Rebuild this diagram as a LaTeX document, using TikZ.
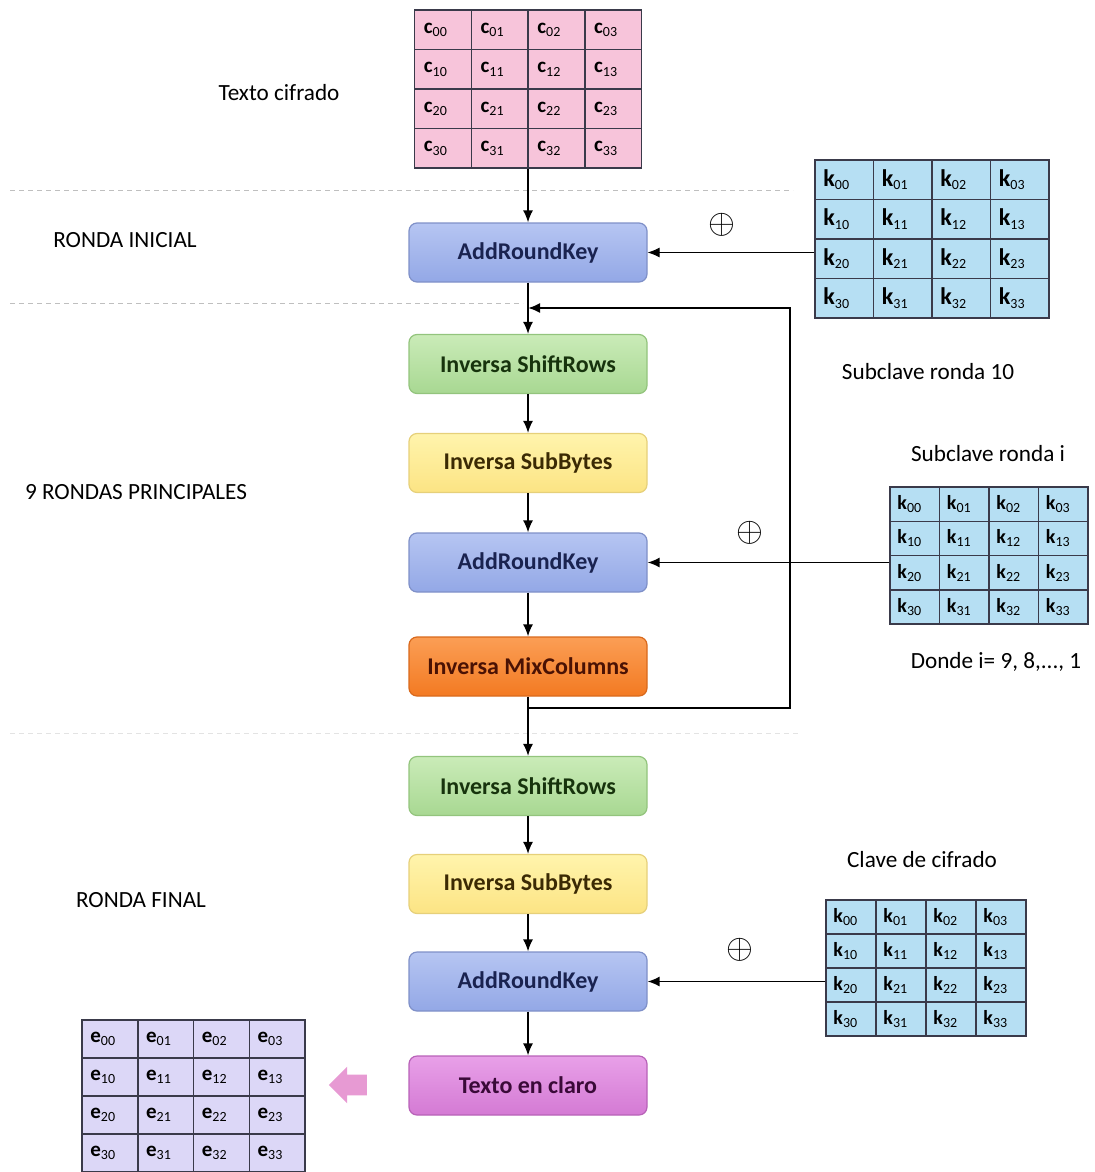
\documentclass[tikz,border=0pt]{standalone}
\usepackage{fontspec}
\setmainfont{Carlito}
\usetikzlibrary{arrows.meta,shapes.arrows}

\definecolor{cipfill}{HTML}{F7C4DA}
\definecolor{keyfill}{HTML}{B6DFF3}
\definecolor{resfill}{HTML}{DCD7F7}
\definecolor{gridline}{HTML}{3A3A4A}
\definecolor{arktop}{HTML}{B6C5F2}
\definecolor{arkbot}{HTML}{93A8E6}
\definecolor{arkline}{HTML}{7F90C8}
\definecolor{arktext}{HTML}{1A2350}
\definecolor{srtop}{HTML}{CAEBB8}
\definecolor{srbot}{HTML}{A8D892}
\definecolor{srline}{HTML}{93C47D}
\definecolor{srtext}{HTML}{17330D}
\definecolor{sbtop}{HTML}{FFF4AC}
\definecolor{sbbot}{HTML}{FCE484}
\definecolor{sbline}{HTML}{E6D07A}
\definecolor{sbtext}{HTML}{3B2A04}
\definecolor{mctop}{HTML}{FB9E55}
\definecolor{mcbot}{HTML}{F37A22}
\definecolor{mcline}{HTML}{D9691C}
\definecolor{mctext}{HTML}{4A1204}
\definecolor{tctop}{HTML}{E8A0E8}
\definecolor{tcbot}{HTML}{D47AD4}
\definecolor{tcline}{HTML}{B862B8}
\definecolor{tctext}{HTML}{3A0A38}
\definecolor{arrowpink}{HTML}{E79AD3}

\tikzset{
  roundbox/.style={rounded corners=4pt, minimum width=119pt, minimum height=29.5pt,
    font=\fontsize{12}{14}\selectfont\bfseries, line width=0.6pt},
  arkbox/.style={roundbox, draw=arkline, top color=arktop, bottom color=arkbot, text=arktext},
  srbox/.style={roundbox, draw=srline, top color=srtop, bottom color=srbot, text=srtext},
  sbbox/.style={roundbox, draw=sbline, top color=sbtop, bottom color=sbbot, text=sbtext},
  mcbox/.style={roundbox, draw=mcline, top color=mctop, bottom color=mcbot, text=mctext},
  tcbox/.style={roundbox, draw=tcline, top color=tctop, bottom color=tcbot, text=tctext},
  tbl/.style={draw=gridline, line width=0.75pt, inner sep=0pt},
  rule/.style={draw=gridline, line width=0.75pt},
  flow/.style={-{Latex[length=6pt,width=5pt]}, line width=0.75pt},
  sep/.style={gray!50, dash pattern=on 2.5pt off 2pt, line width=0.5pt},
  lbl/.style={font=\fontsize{11.6}{13}\selectfont},
  xorsym/.style={font=\fontsize{18}{20}\selectfont},
}

\begin{document}
\begin{tikzpicture}[x=0.5pt, y=-0.5pt]
  \useasboundingbox (0,0) rectangle (1095,1172);

  % Section separators
  \draw[sep] (10,190) -- (793,190);
  \draw[sep] (10,303) -- (523,303);
  \draw[sep, gray!22] (10,733) -- (800,733);

  % Ciphertext block
  \node[tbl, fill=cipfill, minimum width=113.5pt, minimum height=79pt] (cip) at (528,89) {};
  \foreach \i in {1,2,3} {
    \draw[rule] ({414.5+\i*56.75},10) -- ++(0,158);
    \draw[rule] (414.5,{10+\i*39.5}) -- ++(227,0);
  }
  \foreach \r in {0,...,3}
    \foreach \c in {0,...,3}
      \node[anchor=west, inner sep=0pt, font=\fontsize{10.5}{12}\selectfont] (c-\r\c)
        at ({414.5+\c*56.75+9},{29.75+\r*39.5}) {\textbf{c}\textsubscript{\scriptsize\r\c}};
  \node[lbl] (ciptxt) at (279,93) {Texto cifrado};

  % Initial round
  \node[lbl] (rinit) at (125,240) {RONDA INICIAL};
  \node[arkbox] (ark1) at (528,252.5) {AddRoundKey};

  \node[tbl, fill=keyfill, minimum width=117pt, minimum height=79pt] (key1) at (932,239) {};
  \foreach \i in {1,2,3} {
    \draw[rule] ({815+\i*58.5},160) -- ++(0,158);
    \draw[rule] (815,{160+\i*39.5}) -- ++(234,0);
  }
  \foreach \r in {0,...,3}
    \foreach \c in {0,...,3}
      \node[anchor=west, inner sep=0pt, font=\fontsize{12}{14}\selectfont] (ka-\r\c)
        at ({815+\c*58.5+8},{179.75+\r*39.5}) {\textbf{k}\textsubscript{\scriptsize\r\c}};
  \node[lbl] (sub10) at (928,372) {Subclave ronda 10};
  \node[xorsym] (xor1) at (722,225) {$\oplus$};

  % Main rounds
  \node[lbl] (rmain) at (136,492) {9 RONDAS PRINCIPALES};
  \node[srbox] (sr1) at (528,364) {Inversa ShiftRows};
  \node[sbbox] (sb1) at (528,463) {Inversa SubBytes};
  \node[arkbox] (ark2) at (528,562.5) {AddRoundKey};
  \node[mcbox] (mix) at (528,666.5) {Inversa MixColumns};

  \node[tbl, fill=keyfill, minimum width=99pt, minimum height=68.5pt] (key2) at (989,555.5) {};
  \foreach \i in {1,2,3} {
    \draw[rule] ({890+\i*49.5},487) -- ++(0,137);
    \draw[rule] (890,{487+\i*34.25}) -- ++(198,0);
  }
  \foreach \r in {0,...,3}
    \foreach \c in {0,...,3}
      \node[anchor=west, inner sep=0pt, font=\fontsize{10}{11}\selectfont] (kb-\r\c)
        at ({890+\c*49.5+7},{504.1+\r*34.25}) {\textbf{k}\textsubscript{\scriptsize\r\c}};
  \node[lbl] (subi) at (988,454) {Subclave ronda i};
  \node[lbl] (donde) at (996,662) {Donde i= 9, 8,..., 1};
  \node[xorsym] (xor2) at (750,533) {$\oplus$};

  % Final round
  \node[lbl] (rfin) at (141,900) {RONDA FINAL};
  \node[srbox] (sr2) at (528,786) {Inversa ShiftRows};
  \node[sbbox] (sb2) at (528,884) {Inversa SubBytes};
  \node[arkbox] (ark3) at (528,981.5) {AddRoundKey};
  \node[tcbox] (claro) at (528,1085.5) {Texto en claro};

  \node[tbl, fill=keyfill, minimum width=100pt, minimum height=68pt] (key3) at (926,968) {};
  \foreach \i in {1,2,3} {
    \draw[rule] ({826+\i*50},900) -- ++(0,136);
    \draw[rule] (826,{900+\i*34}) -- ++(200,0);
  }
  \foreach \r in {0,...,3}
    \foreach \c in {0,...,3}
      \node[anchor=west, inner sep=0pt, font=\fontsize{10}{11}\selectfont] (kc-\r\c)
        at ({826+\c*50+7},{917+\r*34}) {\textbf{k}\textsubscript{\scriptsize\r\c}};
  \node[lbl] (clave) at (922,860) {Clave de cifrado};
  \node[xorsym] (xor3) at (740,950) {$\oplus$};

  % Plaintext block
  \node[tbl, fill=resfill, minimum width=111.5pt, minimum height=76pt] (res) at (193.5,1096) {};
  \foreach \i in {1,2,3} {
    \draw[rule] ({82+\i*55.75},1020) -- ++(0,152);
    \draw[rule] (82,{1020+\i*38}) -- ++(223,0);
  }
  \foreach \r in {0,...,3}
    \foreach \c in {0,...,3}
      \node[anchor=west, inner sep=0pt, font=\fontsize{10.5}{12}\selectfont] (e-\r\c)
        at ({82+\c*55.75+8},{1039+\r*38}) {\textbf{e}\textsubscript{\scriptsize\r\c}};
  \node[single arrow, shape border rotate=180, fill=arrowpink, inner sep=5pt,
    minimum height=19pt, single arrow head extend=4pt] (back) at (353,1085) {};

  % Connectors
  \draw[flow] (cip.south) -- (ark1.north);
  \draw[flow] (ark1.south) -- (sr1.north);
  \draw[flow] (sr1.south) -- (sb1.north);
  \draw[flow] (sb1.south) -- (ark2.north);
  \draw[flow] (ark2.south) -- (mix.north);
  \draw[flow] (mix.south) -- (sr2.north);
  \draw[flow] (sr2.south) -- (sb2.north);
  \draw[flow] (sb2.south) -- (ark3.north);
  \draw[flow] (ark3.south) -- (claro.north);

  \draw[flow, line width=0.5pt] (key1.west |- ark1.east) -- (ark1.east);
  \draw[flow] (key2.west |- ark2.east) -- (ark2.east);
  \draw[flow] (key3.west |- ark3.east) -- (ark3.east);

  % Loop back to the next round
  \coordinate (fbout) at (528,708);
  \coordinate (fbin) at (528,308);
  \draw[flow, line width=1pt] (fbout) -- ++(262,0) |- (fbin);

\end{tikzpicture}
\end{document}
